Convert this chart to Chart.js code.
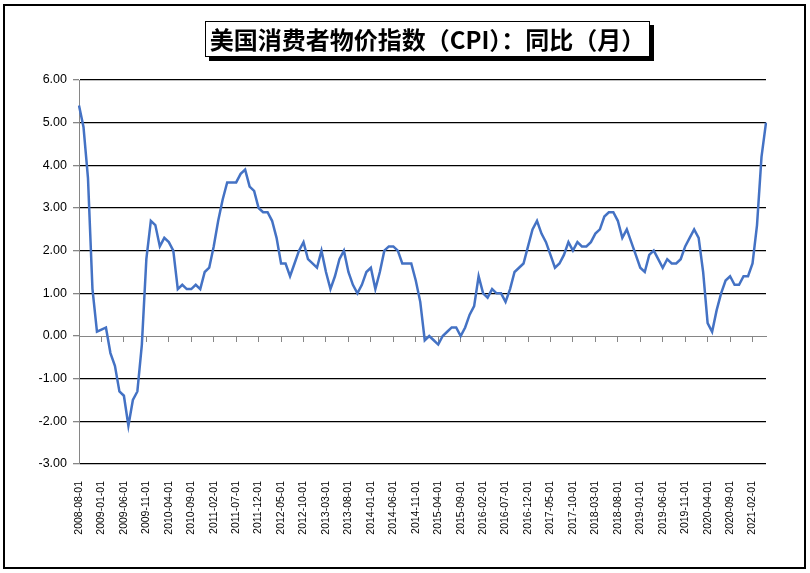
<!DOCTYPE html>
<html>
<head>
<meta charset="utf-8">
<script src="https://cdn.jsdelivr.net/npm/chart.js@4/dist/chart.umd.min.js"></script>
<style>
    body { margin: 0; background: #fff; }
    #wrap { position: relative; width: 810px; height: 573px; }
    #frame {
        position: absolute; left: 3px; top: 4px; width: 799px; height: 561px;
        border: 2px solid #000;
    }
    #title {
        position: absolute; left: 205px; top: 21px; width: 443px; height: 34px;
        border: 1px solid #000; background: #fff;
        box-shadow: 4px 4px 0 #000;
        font: bold 24px "Noto Sans CJK SC", sans-serif;
        line-height: 34px; text-align: center; color: #000;
        white-space: nowrap;
    }
    canvas { position: absolute; left: 0; top: 0; }
</style>
</head>
<body>
<div id="wrap">
    <div id="frame"></div>
    <canvas id="cpiChart" width="810" height="573"></canvas>
    <div id="title">美国消费者物价指数（CPI）：同比（月）</div>
</div>
<script>
// first month of the series and year-by-year YoY values (%)
const startYear = 2008;
const startMonth = 8;
const cpiYoY = [
    5.4, 4.9, 3.7, 1.1, 0.1,                                            // 2008 Aug-Dec
    0.15, 0.2, -0.4, -0.7, -1.3, -1.4, -2.1, -1.5, -1.3, -0.2, 1.8, 2.7, // 2009
    2.6, 2.1, 2.3, 2.2, 2.0, 1.1, 1.2, 1.1, 1.1, 1.2, 1.1, 1.5,         // 2010
    1.6, 2.1, 2.7, 3.2, 3.6, 3.6, 3.6, 3.8, 3.9, 3.5, 3.4, 3.0,         // 2011
    2.9, 2.9, 2.7, 2.3, 1.7, 1.7, 1.4, 1.7, 2.0, 2.2, 1.8, 1.7,         // 2012
    1.6, 2.0, 1.5, 1.1, 1.4, 1.8, 2.0, 1.5, 1.2, 1.0, 1.2, 1.5,         // 2013
    1.6, 1.1, 1.5, 2.0, 2.1, 2.1, 2.0, 1.7, 1.7, 1.7, 1.3, 0.8,         // 2014
    -0.1, 0.0, -0.1, -0.2, 0.0, 0.1, 0.2, 0.2, 0.0, 0.2, 0.5, 0.7,      // 2015
    1.4, 1.0, 0.9, 1.1, 1.0, 1.0, 0.8, 1.1, 1.5, 1.6, 1.7, 2.1,         // 2016
    2.5, 2.7, 2.4, 2.2, 1.9, 1.6, 1.7, 1.9, 2.2, 2.0, 2.2, 2.1,         // 2017
    2.1, 2.2, 2.4, 2.5, 2.8, 2.9, 2.9, 2.7, 2.3, 2.5, 2.2, 1.9,         // 2018
    1.6, 1.5, 1.9, 2.0, 1.8, 1.6, 1.8, 1.7, 1.7, 1.8, 2.1, 2.3,         // 2019
    2.5, 2.3, 1.5, 0.3, 0.1, 0.6, 1.0, 1.3, 1.4, 1.2, 1.2, 1.4,         // 2020
    1.4, 1.7, 2.6, 4.2, 5.0                                             // 2021 Jan-May
];
const yMin = -3;
const yMax = 6;
const labelEvery = 5;

const months = [];
for (let i = 0; i < cpiYoY.length; i++) {
    const m = startMonth - 1 + i;
    const y = startYear + Math.floor(m / 12);
    const mm = String(m % 12 + 1).padStart(2, '0');
    months.push(`${y}-${mm}-01`);
}

const axisGray = '#868686';

new Chart(document.getElementById('cpiChart'), {
    type: 'line',
    data: {
        labels: months,
        datasets: [{
            label: 'CPI YoY',
            data: cpiYoY,
            borderColor: '#4472C4',
            borderWidth: 2.5,
            pointRadius: 0,
            tension: 0,
            fill: false
        }]
    },
    options: {
        responsive: false,
        animation: false,
        layout: { padding: { top: 80, right: 44, bottom: 0, left: 0 } },
        plugins: {
            legend: { display: false },
            tooltip: { enabled: false }
        },
        scales: {
            x: {
                type: 'category',
                offset: false,
                grid: { display: false },
                border: { display: false },
                ticks: {
                    autoSkip: false,
                    minRotation: 90,
                    maxRotation: 90,
                    padding: 9,
                    color: '#000',
                    font: { family: 'Liberation Sans', size: 10.5 },
                    callback: (v, i) => (i % labelEvery === 0 ? months[i] : '')
                },
                afterFit: scale => { scale.height = 109; }
            },
            x2: {
                type: 'category',
                axis: 'x',
                position: { y: 0 },
                offset: false,
                border: { display: true, color: axisGray, width: 1 },
                grid: {
                    drawOnChartArea: false,
                    drawTicks: true,
                    tickLength: 5,
                    tickColor: ctx => (ctx.index > 0 && ctx.index % labelEvery === 0 ? axisGray : 'rgba(0,0,0,0)')
                },
                ticks: { display: false }
            },
            y: {
                min: yMin,
                max: yMax,
                border: { display: true, color: axisGray, width: 1 },
                grid: {
                    color: ctx => (ctx.tick && ctx.tick.value === 0 ? 'rgba(0,0,0,0)' : '#000'),
                    lineWidth: 1.3,
                    tickColor: axisGray,
                    tickLength: 6
                },
                ticks: {
                    stepSize: 1,
                    padding: 6,
                    color: '#000',
                    font: { family: 'Liberation Sans', size: 12.5 },
                    callback: v => Number(v).toFixed(2)
                },
                afterFit: scale => { scale.width = 79; }
            }
        }
    }
});
</script>
</body>
</html>
